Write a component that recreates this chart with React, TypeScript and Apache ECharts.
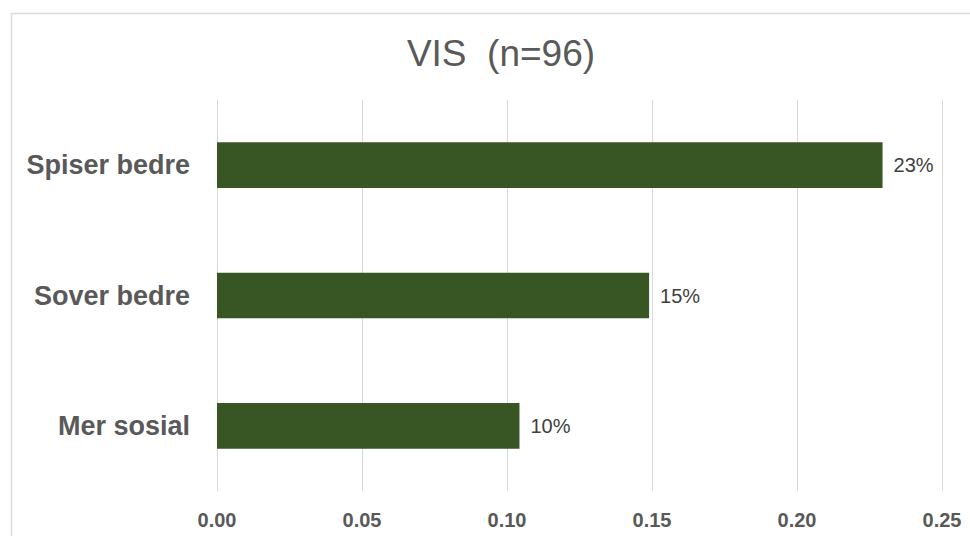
import React, { useEffect, useRef } from "react";
import * as echarts from "echarts";

const categories = ["Spiser bedre", "Sover bedre", "Mer sosial"];
const values = [0.2295, 0.149, 0.1043];
const xTicks = { min: 0, max: 0.25, interval: 0.05 };
const titleText = "VIS  (n=96)";

export default function App() {
  const ref = useRef<HTMLDivElement>(null);
  useEffect(() => {
    const chart = echarts.init(ref.current!, null, { renderer: "svg" });
    chart.setOption({
      animation: false,
      backgroundColor: "#ffffff",
      title: {
        text: titleText,
        left: 496,
        textAlign: "center",
        top: 30,
        textStyle: {
          fontFamily: "Liberation Sans, Arial, sans-serif",
          fontSize: 37,
          fontWeight: "normal",
          color: "#595959",
        },
      },
      graphic: [
        {
          type: "rect",
          shape: { x: 11.5, y: 13.5, width: 1000, height: 600 },
          style: { fill: "none", stroke: "#d9d9d9", lineWidth: 1.5 },
          silent: true,
          z: -1,
        },
      ],
      grid: { left: 217, right: 28, top: 100, bottom: 45, containLabel: false },
      xAxis: {
        type: "value",
        min: xTicks.min,
        max: xTicks.max,
        interval: xTicks.interval,
        axisLine: { show: false },
        axisTick: { show: false },
        splitLine: { show: true, lineStyle: { color: "#d9d9d9", width: 1 } },
        axisLabel: {
          margin: 19,
          formatter: (v: number) => v.toFixed(2),
          fontFamily: "Liberation Sans, Arial, sans-serif",
          fontSize: 20,
          fontWeight: "bold",
          color: "#595959",
        },
      },
      yAxis: {
        type: "category",
        data: categories,
        inverse: true,
        axisLine: { show: true, lineStyle: { color: "#d9d9d9", width: 1 } },
        axisTick: { show: false },
        axisLabel: {
          margin: 27,
          fontFamily: "Liberation Sans, Arial, sans-serif",
          fontSize: 27,
          fontWeight: "bold",
          color: "#595959",
        },
      },
      series: [
        {
          type: "bar",
          data: values,
          barWidth: "35%",
          itemStyle: { color: "#375623" },
          label: {
            show: true,
            position: "right",
            distance: 11,
            formatter: (p: any) => Math.round(p.value * 100) + "%",
            fontFamily: "Liberation Sans, Arial, sans-serif",
            fontSize: 20,
            color: "#404040",
          },
        },
      ],
    });
    return () => chart.dispose();
  }, []);
  return (
    <div
      ref={ref}
      style={{ position: "fixed", left: 0, top: 0, width: 970, height: 536 }}
    />
  );
}
